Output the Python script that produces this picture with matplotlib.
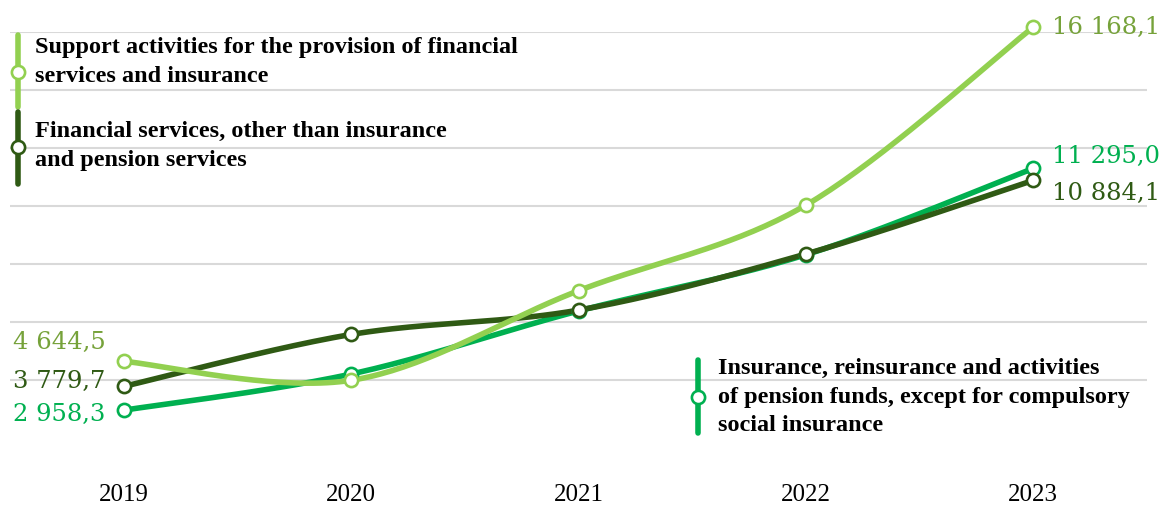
import numpy as np
import matplotlib
matplotlib.use('Agg')
import matplotlib.pyplot as plt

# Series values by year
years = [2019, 2020, 2021, 2022, 2023]
support_vals = [4644.5, 3990.0, 7080.0, 10030.0, 16168.1]
financial_vals = [3779.7, 5570.0, 6410.0, 8345.0, 10884.1]
insurance_vals = [2958.3, 4205.0, 6380.0, 8320.0, 11295.0]

support_name = "Support activities for the provision of financial\nservices and insurance"
financial_name = "Financial services, other than insurance\nand pension services"
insurance_name = ("Insurance, reinsurance and activities\n"
                  "of pension funds, except for compulsory\nsocial insurance")

LIGHT = '#92D050'
DARK = '#2F5A14'
MID = '#00B050'
LIGHT_TXT = '#76A23A'


def fmt(v):
    # "16 168,1" style: space thousands separator, comma decimal
    s = f"{v:,.1f}".replace(',', ' ').replace('.', ',')
    return s


def smooth(xs, ys, n=40):
    # Catmull-Rom style cubic Bezier through the points (like spreadsheet smoothing)
    pts = np.column_stack([xs, ys]).astype(float)
    out = []
    for i in range(len(pts) - 1):
        p0 = pts[i - 1] if i > 0 else pts[i]
        p1, p2 = pts[i], pts[i + 1]
        p3 = pts[i + 2] if i + 2 < len(pts) else pts[i + 1]
        c1 = p1 + (p2 - p0) / 6.0
        c2 = p2 - (p3 - p1) / 6.0
        t = np.linspace(0, 1, n)[:, None]
        seg = ((1 - t) ** 3) * p1 + 3 * ((1 - t) ** 2) * t * c1 + 3 * (1 - t) * t ** 2 * c2 + t ** 3 * p2
        out.append(seg if i == 0 else seg[1:])
    seg = np.vstack(out)
    return seg[:, 0], seg[:, 1]


W, H = 1162, 505
fig = plt.figure(figsize=(W / 100, H / 100), dpi=100)
ax = fig.add_axes([10 / W, (H - 438) / H, (1147 - 10) / W, (438 - 32) / H])

for vals, col in [(insurance_vals, MID), (financial_vals, DARK), (support_vals, LIGHT)]:
    sx, sy = smooth(years, vals)
    ax.plot(sx, sy, color=col, lw=4, solid_capstyle='round', clip_on=False, zorder=3)
    ax.plot(years, vals, 'o', ms=9.5, mfc='white', mec=col, mew=1.9, clip_on=False, zorder=4)

ax.set_xlim(2018.5, 2023.5)
ax.set_ylim(2000, 16000)
ax.set_yticks(range(4000, 16001, 2000))
ax.set_xticks(years)
ax.set_xticklabels([str(y) for y in years], family='Liberation Serif', fontsize=18)
ax.tick_params(axis='x', length=0, pad=33)
ax.tick_params(axis='y', length=0, labelleft=False)
ax.grid(axis='y', color='#D9D9D9', lw=1.5)
ax.set_axisbelow(True)
for sp in ax.spines.values():
    sp.set_visible(False)

# value labels at first and last year
lbl = dict(family='DejaVu Serif', fontsize=17.5, textcoords='offset pixels', va='center',
           annotation_clip=False)
ax.annotate(fmt(support_vals[0]), (years[0], support_vals[0]), xytext=(-18, 19), ha='right', color=LIGHT_TXT, **lbl)
ax.annotate(fmt(financial_vals[0]), (years[0], financial_vals[0]), xytext=(-18, 5), ha='right', color=DARK, **lbl)
ax.annotate(fmt(insurance_vals[0]), (years[0], insurance_vals[0]), xytext=(-18, -4), ha='right', color=MID, **lbl)
ax.annotate(fmt(support_vals[-1]), (years[-1], support_vals[-1]), xytext=(19, 0), ha='left', color=LIGHT_TXT, **lbl)
ax.annotate(fmt(insurance_vals[-1]), (years[-1], insurance_vals[-1]), xytext=(19, 12), ha='left', color=MID, **lbl)
ax.annotate(fmt(financial_vals[-1]), (years[-1], financial_vals[-1]), xytext=(19, -13), ha='left', color=DARK, **lbl)

# legend entries drawn on a pixel overlay
ov = fig.add_axes([0, 0, 1, 1])
ov.set_xlim(0, W)
ov.set_ylim(H, 0)
ov.axis('off')
ov.patch.set_alpha(0)

legend = [
    (support_name, LIGHT, 18, 35, 107, 72, 35, 62),
    (financial_name, DARK, 18, 112, 184, 147, 35, 146),
    (insurance_name, MID, 698, 360, 433, 397, 718, 397),
]
for name, col, lx, y0, y1, yc, tx, ty in legend:
    ov.plot([lx, lx], [y0, y1], color=col, lw=4, solid_capstyle='round')
    ov.plot([lx], [yc], 'o', ms=9.5, mfc='white', mec=col, mew=1.9)
    ov.text(tx, ty, name, family='Liberation Serif', fontweight='bold', fontsize=17.5,
            va='center', ha='left', linespacing=1.46, color='black')

fig.savefig('out.png', dpi=100)
